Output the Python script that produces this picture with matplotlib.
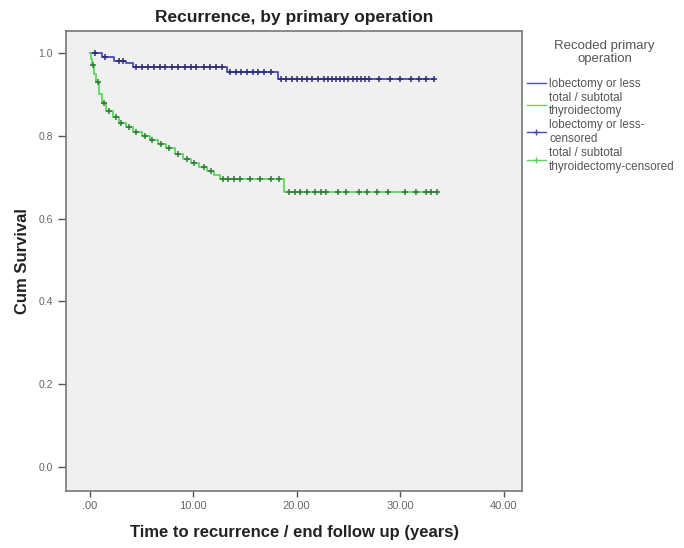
import numpy as np
import matplotlib
matplotlib.use("Agg")
import matplotlib.pyplot as plt
from matplotlib.lines import Line2D

# Kaplan-Meier steps: time of each drop and survival after it
lob_times = [0.0, 1.2, 2.3, 3.5, 4.2, 13.3, 18.2]
lob_surv = [1.0, 0.99, 0.98, 0.975, 0.965, 0.953, 0.938]
lob_end = 33.3
lob_censored = [0.5, 1.5, 2.8, 3.2, 4.5, 5.0, 5.6, 6.2, 6.8, 7.3, 7.9, 8.5, 9.2,
                9.8, 10.3, 11.0, 11.6, 12.2, 12.8, 13.6, 14.1, 14.6, 15.2, 15.8,
                16.3, 16.8, 17.5, 18.5, 19.0, 19.5, 20.0, 20.5, 21.0, 21.5, 22.1,
                22.6, 23.0, 23.4, 23.8, 24.2, 24.6, 25.0, 25.4, 25.8, 26.2, 26.6,
                27.0, 28.0, 29.0, 30.0, 31.0, 31.8, 32.5, 33.3]

tot_times = [0.0, 0.1, 0.2, 0.4, 0.6, 0.9, 1.2, 1.6, 2.2, 2.8, 3.5, 4.2, 5.0, 5.8,
             6.6, 7.4, 8.2, 9.0, 9.8, 10.6, 11.3, 12.0, 12.6, 18.8]
tot_surv = [1.0, 0.985, 0.97, 0.95, 0.93, 0.90, 0.88, 0.86, 0.845, 0.83, 0.82,
            0.81, 0.80, 0.79, 0.78, 0.77, 0.755, 0.745, 0.735, 0.725, 0.715,
            0.705, 0.696, 0.663]
tot_end = 33.6
tot_censored = [0.3, 0.8, 1.4, 1.9, 2.5, 3.0, 3.8, 4.5, 5.3, 6.0, 6.9, 7.7, 8.5,
                9.4, 10.1, 11.0, 11.7, 12.9, 13.4, 13.9, 14.5, 15.5, 16.5, 17.5,
                18.3, 19.3, 19.8, 20.3, 21.0, 21.8, 22.3, 22.8, 24.0, 24.8, 26.0,
                26.8, 27.8, 28.8, 30.5, 31.5, 32.5, 33.0, 33.6]

x_ticks = [0, 10, 20, 30, 40]
x_labels = [".00", "10.00", "20.00", "30.00", "40.00"]
y_ticks = [0.0, 0.2, 0.4, 0.6, 0.8, 1.0]
y_labels = ["0.0", "0.2", "0.4", "0.6", "0.8", "1.0"]

BLUE = "#4a4ab4"
BLUE_DARK = "#2c2c78"
GREEN = "#5ad85a"
GREEN_DARK = "#2e7a36"

plt.rcParams.update({
    "font.family": "Liberation Sans",
    "font.size": 8,
})


def km_curve(ax, times, surv, end, censored, color, mcolor):
    t = np.append(times, end)
    s = np.append(surv, surv[-1])
    ax.step(t, s, where="post", color=color, lw=1.3, zorder=2)
    idx = np.searchsorted(times, censored, side="right") - 1
    cy = np.asarray(surv)[idx]
    ax.plot(censored, cy, ls="none", marker="+", ms=4, mew=1.1,
            color=mcolor, zorder=3)


fig = plt.figure(figsize=(6.84, 5.48), dpi=100, facecolor="white")
ax = fig.add_axes([0.0965, 0.104, 0.667, 0.8394])
ax.set_facecolor("#f0f0f0")

km_curve(ax, lob_times, lob_surv, lob_end, lob_censored, BLUE, BLUE_DARK)
km_curve(ax, tot_times, tot_surv, tot_end, tot_censored, GREEN, GREEN_DARK)

ax.set_xlim(-2.3, 41.8)
ax.set_ylim(-0.058, 1.053)
ax.set_xticks(x_ticks)
ax.set_xticklabels(x_labels)
ax.set_yticks(y_ticks)
ax.set_yticklabels(y_labels)
ax.tick_params(direction="out", length=4, width=1, colors="#555555",
               labelsize=8, labelcolor="#666666")
ax.tick_params(axis="y", length=6, labelsize=7.5)
for sp in ax.spines.values():
    sp.set_color("#777777")
    sp.set_linewidth(1.2)

ax.set_title("Recurrence, by primary operation", fontsize=12.5,
             fontweight="bold", pad=6.5, color="#222222")
ax.set_xlabel("Time to recurrence / end follow up (years)", fontsize=12,
              fontweight="bold", labelpad=10, color="#222222")
ax.set_ylabel("Cum Survival", fontsize=12, fontweight="bold", labelpad=6,
              color="#222222")

# legend title sits above the entries, centred
fig.text(0.884, 0.904, "Recoded primary\noperation", ha="center", va="center",
         fontsize=9.5, color="#555555", linespacing=1.15)

handles = [
    Line2D([], [], color=BLUE, lw=1),
    Line2D([], [], color=GREEN, lw=1),
    Line2D([], [], color=BLUE, lw=1, marker="+", ms=4),
    Line2D([], [], color=GREEN, lw=1, marker="+", ms=4),
]
labels = ["lobectomy or less", "total / subtotal\nthyroidectomy",
          "lobectomy or less-\ncensored",
          "total / subtotal\nthyroidectomy-censored"]
leg = fig.legend(handles, labels, loc="upper left",
                 bbox_to_anchor=(0.758, 0.873), frameon=False,
                 fontsize=8.5, handlelength=1.6, handletextpad=0.3,
                 labelspacing=0.15, labelcolor="#555555", borderpad=0.2)

fig.savefig("out.png", dpi=100, facecolor="white")
